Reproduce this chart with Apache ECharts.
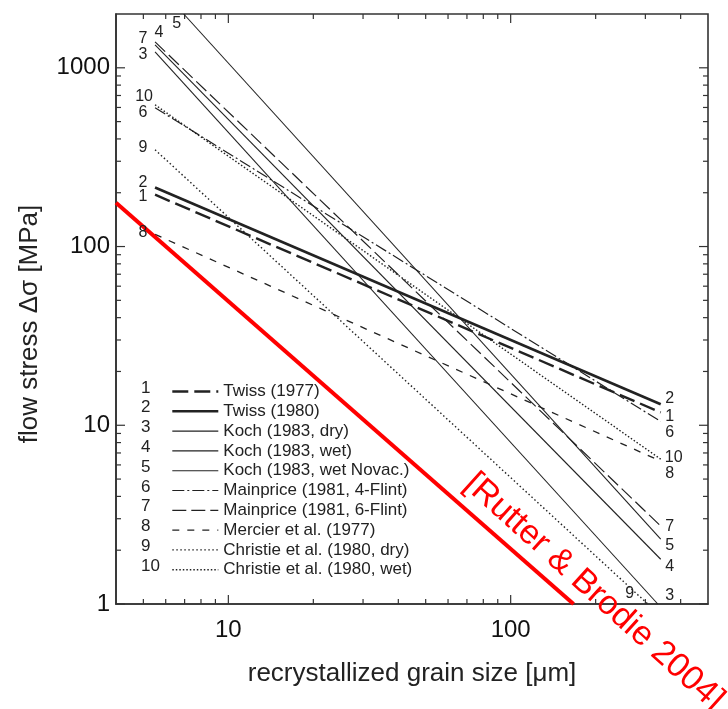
<!DOCTYPE html>
<html>
<head>
<meta charset="utf-8">
<script src="https://cdn.jsdelivr.net/npm/echarts@6/dist/echarts.min.js"></script>
<style>
  html, body { margin: 0; padding: 0; background: #fff; }
  #main { width: 728px; height: 709px; }
</style>
</head>
<body>
<div id="main"></div>
<script>
// grain size [um] vs flow stress [MPa], end points of each piezometer line
var twiss1977 = [[5.5, 195], [340, 11.8]];
var twiss1980 = [[5.5, 214], [340, 13.1]];
var kochDry = [[5.5, 1228], [332, 1]];
var kochWet = [[5.5, 1343], [340, 1.78]];
var kochWetNovac = [[6.95, 2000], [340, 2.31]];
var mainprice4 = [[5.5, 598], [340, 10.5]];
var mainprice6 = [[5.5, 1396], [340, 2.73]];
var mercier = [[5.5, 117], [340, 6.3]];
var christieDry = [[5.5, 348], [306, 1]];
var christieWet = [[5.5, 621], [340, 6.46]];
var rutterBrodie = [[4, 176], [167, 1]];

var seriesNames = ['Twiss (1977)', 'Twiss (1980)', 'Koch (1983, dry)', 'Koch (1983, wet)',
  'Koch (1983, wet Novac.)', 'Mainprice (1981, 4-Flint)', 'Mainprice (1981, 6-Flint)',
  'Mercier et al. (1977)', 'Christie et al. (1980, dry)', 'Christie et al. (1980, wet)'];
var seriesNumbers = ['1', '2', '3', '4', '5', '6', '7', '8', '9', '10'];
var seriesData = [twiss1977, twiss1980, kochDry, kochWet, kochWetNovac,
  mainprice4, mainprice6, mercier, christieDry, christieWet];

var xRange = [4, 500];
var yRange = [1, 2000];
var xTicks = [10, 100];
var xMinorTicks = [5, 6, 7, 8, 9, 20, 30, 40, 50, 60, 70, 80, 90, 200, 300, 400];
var yTicks = [1, 10, 100, 1000];
var yMinorTicks = [2, 3, 4, 5, 6, 7, 8, 9, 20, 30, 40, 50, 60, 70, 80, 90,
  200, 300, 400, 500, 600, 700, 800, 900];

// line looks
var lineStyles = [
  { width: 2.4, type: [16, 6] },
  { width: 2.6, type: 'solid' },
  { width: 1.1, type: 'solid' },
  { width: 1.1, type: 'solid' },
  { width: 1.1, type: 'solid' },
  { width: 1.2, type: [12, 3, 2, 3] },
  { width: 1.2, type: [14, 5] },
  { width: 1.3, type: [7, 8] },
  { width: 1.4, type: [1.5, 2.5] },
  { width: 1.4, type: [1.5, 2] }
];
// label offsets (px) from start / end point of each line
var startOffsets = [[-12, 2], [-12, -5], [-12, 3], [4, -12], [-7, 10],
  [-12, 5], [-12, -3], [-12, -2], [-12, -2], [-11, -8]];
var endOffsets = [[9, 4], [9, -6], [12, -8], [9, 7], [9, 7],
  [9, 11], [9, 1], [9, 12], [-18, -10], [13, -2]];

var FONT = 'Liberation Sans, Arial, sans-serif';
var INK = '#222';
var TICK = '#333';

var labelItems = [];
seriesData.forEach(function (pts, i) {
  labelItems.push({ pt: pts[0], off: startOffsets[i], text: seriesNumbers[i] });
  labelItems.push({ pt: pts[pts.length - 1], off: endOffsets[i], text: seriesNumbers[i] });
});

var series = seriesData.map(function (pts, i) {
  return {
    name: seriesNames[i],
    type: 'line',
    data: pts,
    symbol: 'none',
    silent: true,
    color: INK,
    lineStyle: { color: INK, width: lineStyles[i].width, type: lineStyles[i].type }
  };
});
series.push({
  name: 'Rutter & Brodie',
  type: 'line',
  data: rutterBrodie,
  symbol: 'none',
  silent: true,
  z: 4,
  lineStyle: { color: '#ff0000', width: 4 }
});
series.push({
  type: 'custom',
  coordinateSystem: 'cartesian2d',
  silent: true,
  clip: false,
  z: 6,
  data: labelItems.map(function (l) { return l.pt; }),
  renderItem: function (params, api) {
    var l = labelItems[params.dataIndex];
    var p = api.coord([api.value(0), api.value(1)]);
    return {
      type: 'text',
      x: p[0] + l.off[0],
      y: p[1] + l.off[1],
      style: { text: l.text, fill: INK, font: '16px ' + FONT, align: 'center', verticalAlign: 'middle' }
    };
  }
});

function plainNum(v) { return String(Math.round(v)); }

var baseGraphic = [
  {
    id: 'numbers',
    type: 'text',
    right: 728 - 160,
    top: 378,
    silent: true,
    style: { text: seriesNumbers.join('\n'), fill: INK, font: '17px ' + FONT, align: 'right', lineHeight: 19.8 }
  },
  {
    id: 'credit',
    type: 'text',
    x: 594,
    y: 592,
    rotation: -42 * Math.PI / 180,
    silent: true,
    z: 10,
    style: { text: '[Rutter & Brodie 2004]', fill: '#ff0000', font: '34px ' + FONT, align: 'center', verticalAlign: 'middle' }
  }
];

var chart = echarts.init(document.getElementById('main'));
chart.setOption({
  animation: false,
  backgroundColor: '#fff',
  grid: { left: 116, right: 20, top: 14, bottom: 105, show: true, borderColor: TICK, borderWidth: 1.6 },
  xAxis: {
    type: 'log', logBase: 10, min: xRange[0], max: xRange[1],
    name: 'recrystallized grain size [μm]',
    nameLocation: 'middle',
    nameGap: 57,
    nameTextStyle: { color: INK, fontSize: 26, fontFamily: FONT },
    axisLine: { show: true, lineStyle: { color: TICK, width: 1.6 } },
    splitLine: { show: false },
    axisTick: { show: false },
    axisLabel: { customValues: xTicks, formatter: plainNum, color: '#111', fontSize: 24, fontFamily: FONT, margin: 14 }
  },
  yAxis: {
    type: 'log', logBase: 10, min: yRange[0], max: yRange[1],
    name: 'flow stress Δσ [MPa]',
    nameLocation: 'middle',
    nameGap: 73,
    nameTextStyle: { color: INK, fontSize: 26, fontFamily: FONT, padding: [0, 30, 0, 0] },
    axisLine: { show: true, lineStyle: { color: TICK, width: 1.6 } },
    splitLine: { show: false },
    axisTick: { show: false },
    axisLabel: { customValues: yTicks, formatter: plainNum, color: '#111', fontSize: 24, fontFamily: FONT, margin: 6 }
  },
  legend: {
    data: seriesNames,
    orient: 'vertical',
    left: 166,
    top: 378,
    itemWidth: 46,
    itemHeight: 14,
    itemGap: 2.8,
    selectedMode: false,
    itemStyle: { opacity: 0 },
    lineStyle: { width: 'inherit' },
    textStyle: { color: INK, fontSize: 17, lineHeight: 17, fontFamily: FONT }
  },
  graphic: baseGraphic,
  series: series
});

// inward ticks on all four sides, positioned through the chart's own log scales
var tickEls = [];
function px(v) { return chart.convertToPixel({ xAxisIndex: 0 }, v); }
function py(v) { return chart.convertToPixel({ yAxisIndex: 0 }, v); }
var edgeL = px(xRange[0]), edgeR = px(xRange[1]);
var edgeT = py(yRange[1]), edgeB = py(yRange[0]);
var TW = 1.2;
function tickRect(x, y, w, h) {
  return { type: 'rect', silent: true, shape: { x: x, y: y, width: w, height: h }, style: { fill: TICK } };
}
function addXTicks(vals, len) {
  vals.forEach(function (v) {
    var x = px(v);
    tickEls.push(tickRect(x - TW / 2, edgeB - len, TW, len));
    tickEls.push(tickRect(x - TW / 2, edgeT, TW, len));
  });
}
function addYTicks(vals, len) {
  vals.forEach(function (v) {
    var y = py(v);
    tickEls.push(tickRect(edgeL, y - TW / 2, len, TW));
    tickEls.push(tickRect(edgeR - len, y - TW / 2, len, TW));
  });
}
addXTicks(xTicks, 9);
addXTicks(xMinorTicks, 5);
addYTicks(yTicks, 9);
addYTicks(yMinorTicks, 5);

chart.setOption({
  graphic: baseGraphic.concat([{ id: 'ticks', type: 'group', z: 20, silent: true, children: tickEls }])
});
</script>
</body>
</html>
